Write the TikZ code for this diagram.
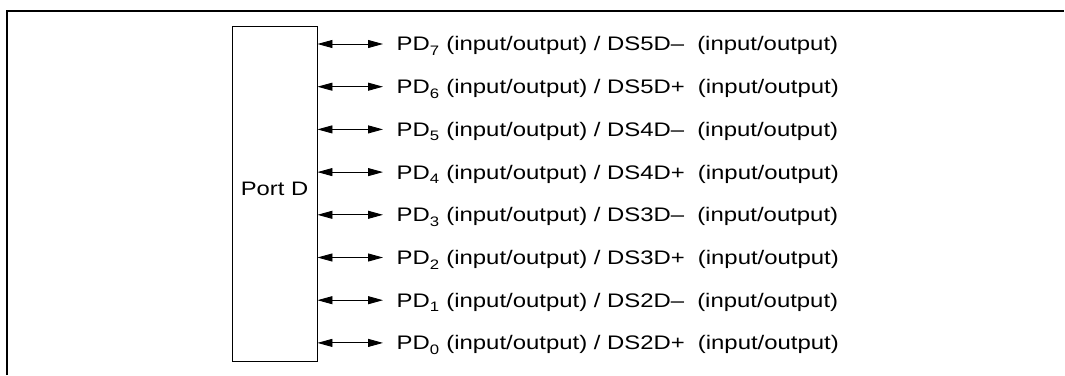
\documentclass[tikz,border=0pt]{standalone}
\usepackage{fontspec}
\setmainfont{Liberation Sans}[FakeStretch=1.22]
\usepackage{tikz}
\usetikzlibrary{arrows.meta, positioning}

\begin{document}
\begin{tikzpicture}[x=1pt, y=-1pt,
    bidir/.style={line width=0.9pt, {Triangle[length=15pt,width=8pt]}-{Triangle[length=15pt,width=8pt]}},
    pdlabel/.style={anchor=base west, inner sep=0pt, font=\fontsize{19.6}{21}\selectfont}]
  \useasboundingbox (0,0) rectangle (1065,375);
  % frame (left and top only)
  \draw[line width=2pt] (7,375) -- (7,11) -- (1064,11);
  \node[draw, line width=0.9pt, minimum width=85pt, minimum height=335pt, inner sep=0pt,
        text depth=9pt, font=\fontsize{19.5}{21}\selectfont] (port) at (274.5,193.5) {Port D};
  \foreach \n/\d/\s in {7/5/–, 6/5/+, 5/4/–, 4/4/+, 3/3/–, 2/3/+, 1/2/–, 0/2/+} {
    \coordinate (tip\n) at (383, 44+42.7*7-42.7*\n);
    \node[pdlabel] (pd\n) at (396.5, 50.9+42.7*7-42.7*\n)
      {PD\textsubscript{\raisebox{-1.5pt}{\n}} (input/output) / DS\d D\s\hspace{13pt}(input/output)};
    \draw[bidir] (port.east |- tip\n) -- (tip\n);
  }
\end{tikzpicture}
\end{document}
